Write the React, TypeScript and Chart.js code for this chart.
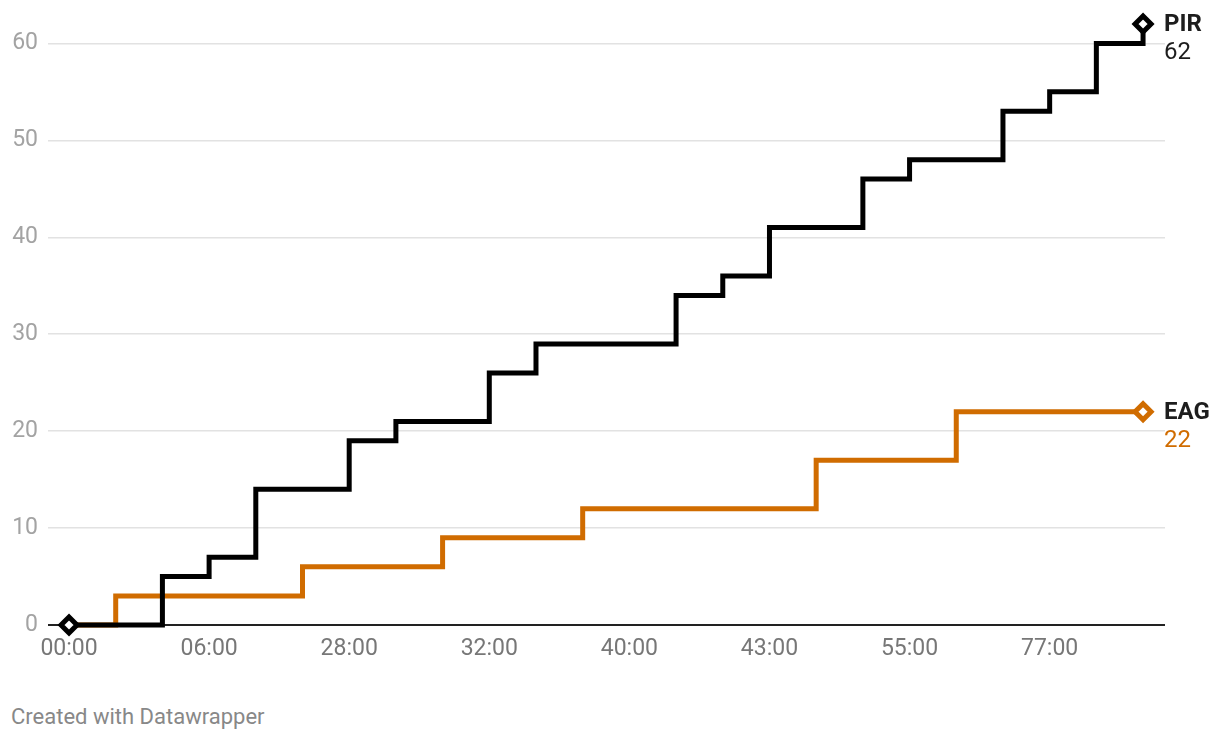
import React, { useEffect, useRef } from 'react';
import { Chart, registerables } from 'chart.js';

Chart.register(...registerables);

// ---- data ----
const seriesNames = ['PIR', 'EAG'];
const pirValues = [0, 0, 5, 7, 14, 14, 19, 21, 21, 26, 29, 29, 29, 34, 36, 41, 41, 46, 48, 48, 53, 55, 60, 62];
const eagValues = [0, 3, 3, 3, 3, 6, 6, 6, 9, 9, 9, 12, 12, 12, 12, 12, 17, 17, 17, 22, 22, 22, 22, 22];
const xTickLabels = ['00:00', '06:00', '28:00', '32:00', '40:00', '43:00', '55:00', '77:00'];
const stepsPerXLabel = 3;
const yTickValues = [0, 10, 20, 30, 40, 50, 60];
const yMax = 62;
const seriesColors = ['#000000', '#d06c00'];

const FONT = 'Roboto, "Noto Sans", sans-serif';

const endLabels = {
  id: 'endLabels',
  afterDatasetsDraw(chart: any) {
    const ctx = chart.ctx;
    chart.data.datasets.forEach((ds: any, di: number) => {
      const meta = chart.getDatasetMeta(di);
      const pt = meta.data[meta.data.length - 1];
      const val = ds.data[ds.data.length - 1].y;
      ctx.save();
      ctx.textAlign = 'left';
      ctx.textBaseline = 'middle';
      ctx.font = `bold 24px ${FONT}`;
      ctx.fillStyle = '#1d1d1d';
      ctx.fillText(seriesNames[di], pt.x + 21, pt.y + 1);
      ctx.font = `24px ${FONT}`;
      ctx.fillStyle = di === 0 ? '#1d1d1d' : seriesColors[di];
      ctx.fillText(String(val), pt.x + 21, pt.y + 29);
      ctx.restore();
    });
  },
};

export default function App() {
  const canvasRef = useRef<HTMLCanvasElement | null>(null);

  useEffect(() => {
    const canvas = canvasRef.current;
    if (!canvas) return;
    const toPoints = (vals: number[]) => vals.map((v, i) => ({ x: i, y: v }));
    const lastIdx = pirValues.length - 1;

    const chart = new Chart(canvas, {
      type: 'line',
      data: {
        datasets: [
          {
            label: seriesNames[0],
            data: toPoints(pirValues),
            borderColor: seriesColors[0],
            borderWidth: 5,
            stepped: true,
            borderJoinStyle: 'miter',
            borderCapStyle: 'butt',
            pointStyle: 'rectRot',
            pointRadius: (c: any) => (c.dataIndex === 0 || c.dataIndex === lastIdx ? 8 : 0),
            pointBorderWidth: 5,
            pointBorderColor: seriesColors[0],
            pointBackgroundColor: '#ffffff',
            clip: false,
          } as any,
          {
            label: seriesNames[1],
            data: toPoints(eagValues),
            borderColor: seriesColors[1],
            borderWidth: 5,
            stepped: true,
            borderJoinStyle: 'miter',
            borderCapStyle: 'butt',
            pointStyle: 'rectRot',
            pointRadius: (c: any) => (c.dataIndex === lastIdx ? 8 : 0),
            pointBorderWidth: 5,
            pointBorderColor: seriesColors[1],
            pointBackgroundColor: '#ffffff',
            clip: false,
          } as any,
        ],
      },
      options: {
        responsive: false,
        animation: false,
        events: [],
        layout: { padding: { top: 24, right: 55, left: 0, bottom: 0 } },
        plugins: {
          legend: { display: false },
          tooltip: { enabled: false },
        },
        scales: {
          x: {
            type: 'linear',
            min: -0.45,
            max: 23.47,
            border: { display: false },
            grid: { display: false, drawTicks: false },
            afterBuildTicks: (scale: any) => {
              scale.ticks = xTickLabels.map((_, i) => ({ value: i * stepsPerXLabel }));
            },
            afterFit: (scale: any) => {
              scale.height = 45;
            },
            ticks: {
              autoSkip: false,
              maxRotation: 0,
              padding: 10,
              color: '#777777',
              font: { family: FONT, size: 23 },
              callback: (v: any) => xTickLabels[Math.round(Number(v) / stepsPerXLabel)] ?? '',
            },
          },
          y: {
            type: 'linear',
            min: 0,
            max: yMax,
            border: { display: false },
            afterBuildTicks: (scale: any) => {
              scale.ticks = yTickValues.map((v) => ({ value: v }));
            },
            afterFit: (scale: any) => {
              scale.width = 48;
            },
            grid: {
              drawTicks: false,
              lineWidth: (c: any) => (c.tick && c.tick.value === 0 ? 2 : 1.5),
              color: (c: any) => (c.tick && c.tick.value === 0 ? '#222222' : '#e2e2e2'),
            },
            ticks: {
              padding: 10,
              color: '#a3a3a3',
              font: { family: FONT, size: 23 },
            },
          },
        },
      } as any,
      plugins: [endLabels],
    });
    return () => chart.destroy();
  }, []);

  return (
    <div style={{ position: 'absolute', left: 0, top: 0, width: 1220, height: 742, background: '#fff' }}>
      <canvas ref={canvasRef} width={1220} height={670} style={{ display: 'block' }} />
      <div
        style={{
          position: 'absolute',
          left: 11,
          top: 703,
          fontFamily: FONT,
          fontSize: 22,
          color: '#888888',
          lineHeight: '28px',
          whiteSpace: 'nowrap',
        }}
      >
        Created with Datawrapper
      </div>
    </div>
  );
}
